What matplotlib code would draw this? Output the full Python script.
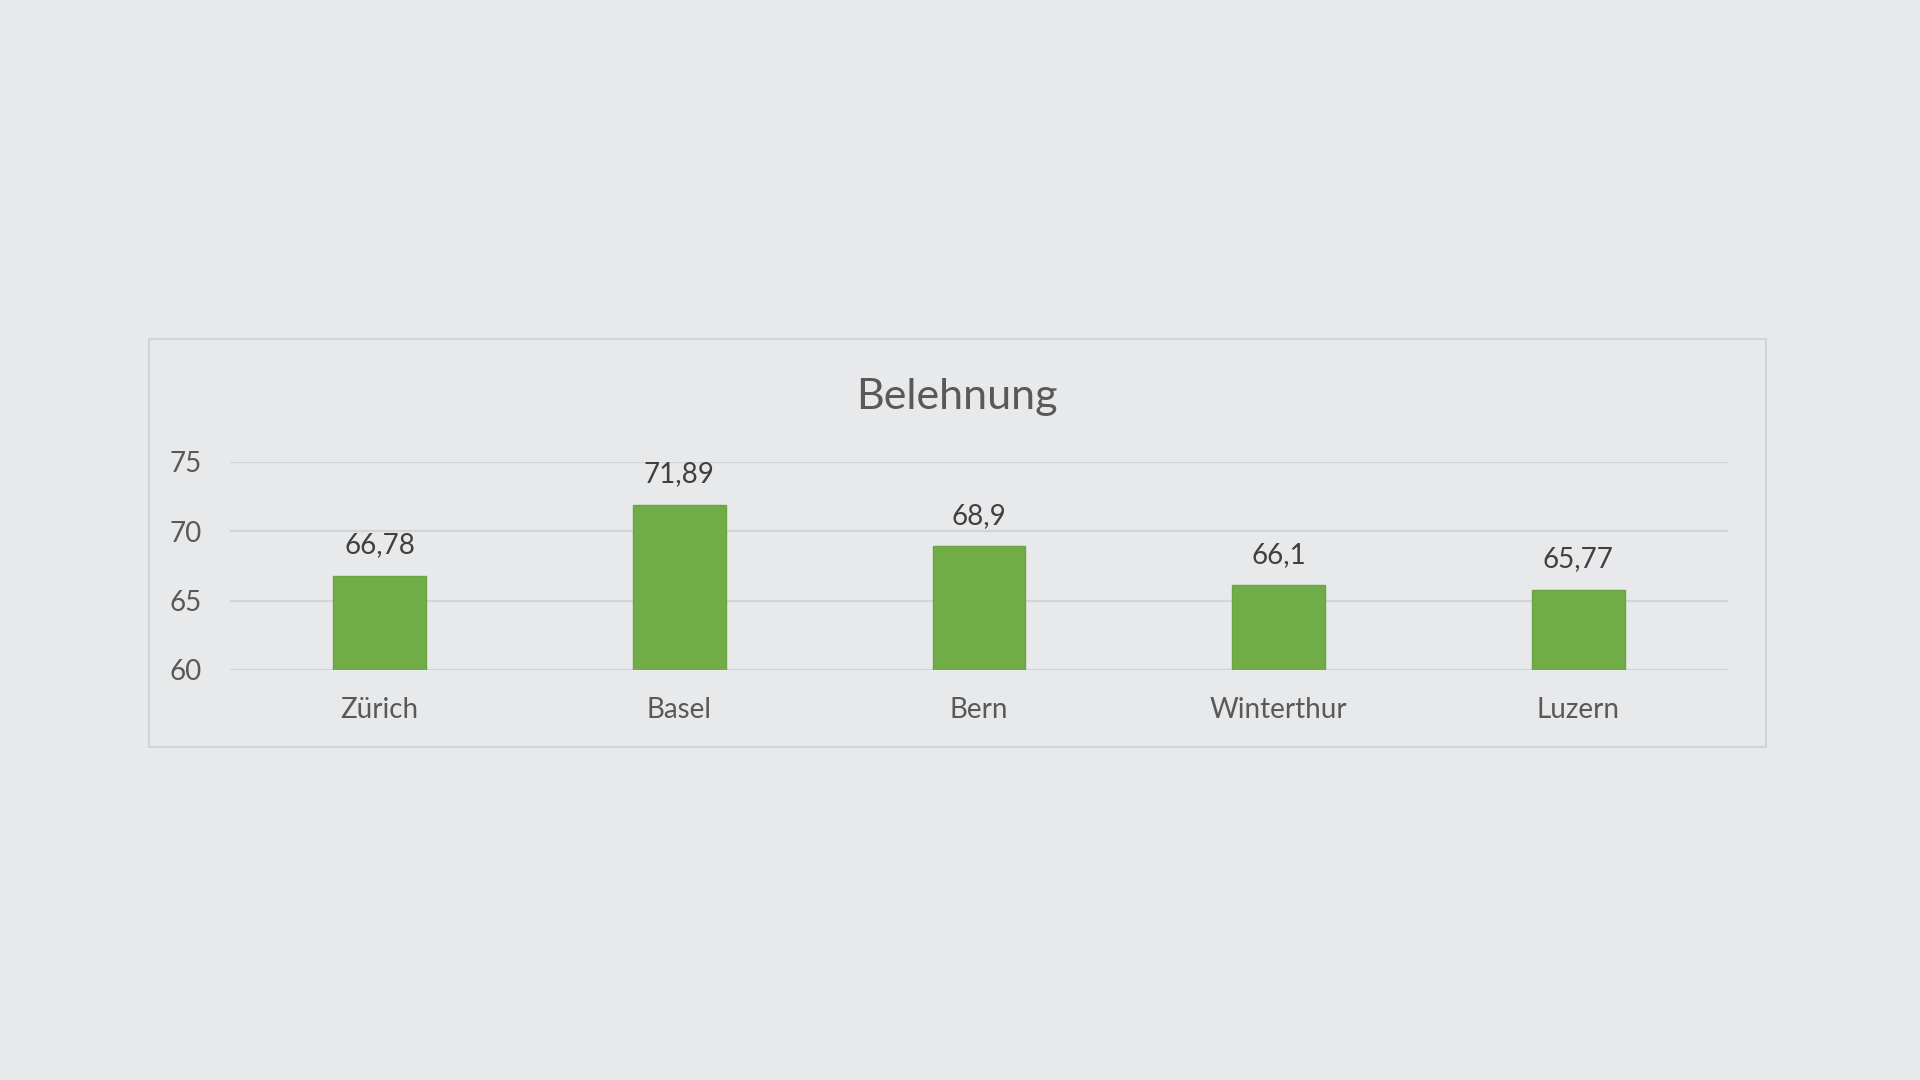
import matplotlib
matplotlib.use("Agg")
import matplotlib.pyplot as plt
from matplotlib.patches import Rectangle

categories = ["Zürich", "Basel", "Bern", "Winterthur", "Luzern"]
values = [66.78, 71.89, 68.9, 66.1, 65.77]
yticks = [60, 65, 70, 75]
title = "Belehnung"

bg = "#E8E9EB"
green = "#70AD47"
text_col = "#595959"
grid_col = "#D3D4D6"

plt.rcParams['font.family'] = ['Lato', 'DejaVu Sans']

fig = plt.figure(figsize=(19.2, 10.8), dpi=100, facecolor=bg)

# chart frame
fig.patches.append(Rectangle((149/1920, 1-747/1080), (1766-149)/1920, (747-339)/1080,
                             transform=fig.transFigure, facecolor=bg,
                             edgecolor="#D2D3D5", linewidth=1.5, zorder=-1))

ax = fig.add_axes([230/1920, 1-670/1080, (1728-230)/1920, (670-461.6)/1080])
ax.set_zorder(1)
ax.set_facecolor("none")
x = list(range(len(categories)))
ax.bar(x, values, width=0.31, color=green, edgecolor="#6AA443", linewidth=1, zorder=3)
ax.set_ylim(60, 75)
ax.set_xlim(-0.5, len(categories)-0.5)
ax.set_yticks(yticks)
ax.set_xticks(x)
ax.set_xticklabels(categories)
ax.yaxis.grid(True, color=grid_col, linewidth=1.6, zorder=0)
ax.xaxis.grid(False)
ax.set_axisbelow(True)
for s in ax.spines.values():
    s.set_visible(False)
ax.tick_params(axis='y', length=0, pad=20, labelsize=20, labelcolor=text_col)
ax.tick_params(axis='x', length=0, pad=19.5, labelsize=20, labelcolor=text_col)

for xi, v in zip(x, values):
    ax.annotate(str(v).replace('.', ','), (xi, v), xytext=(0, 22), textcoords='offset points',
                ha='center', va='center', fontsize=20, color="#404040")

fig.text(957/1920, 1-397/1080, title, ha='center', va='center', fontsize=31, color=text_col)

fig.savefig("out.png", dpi=100, facecolor=bg)
